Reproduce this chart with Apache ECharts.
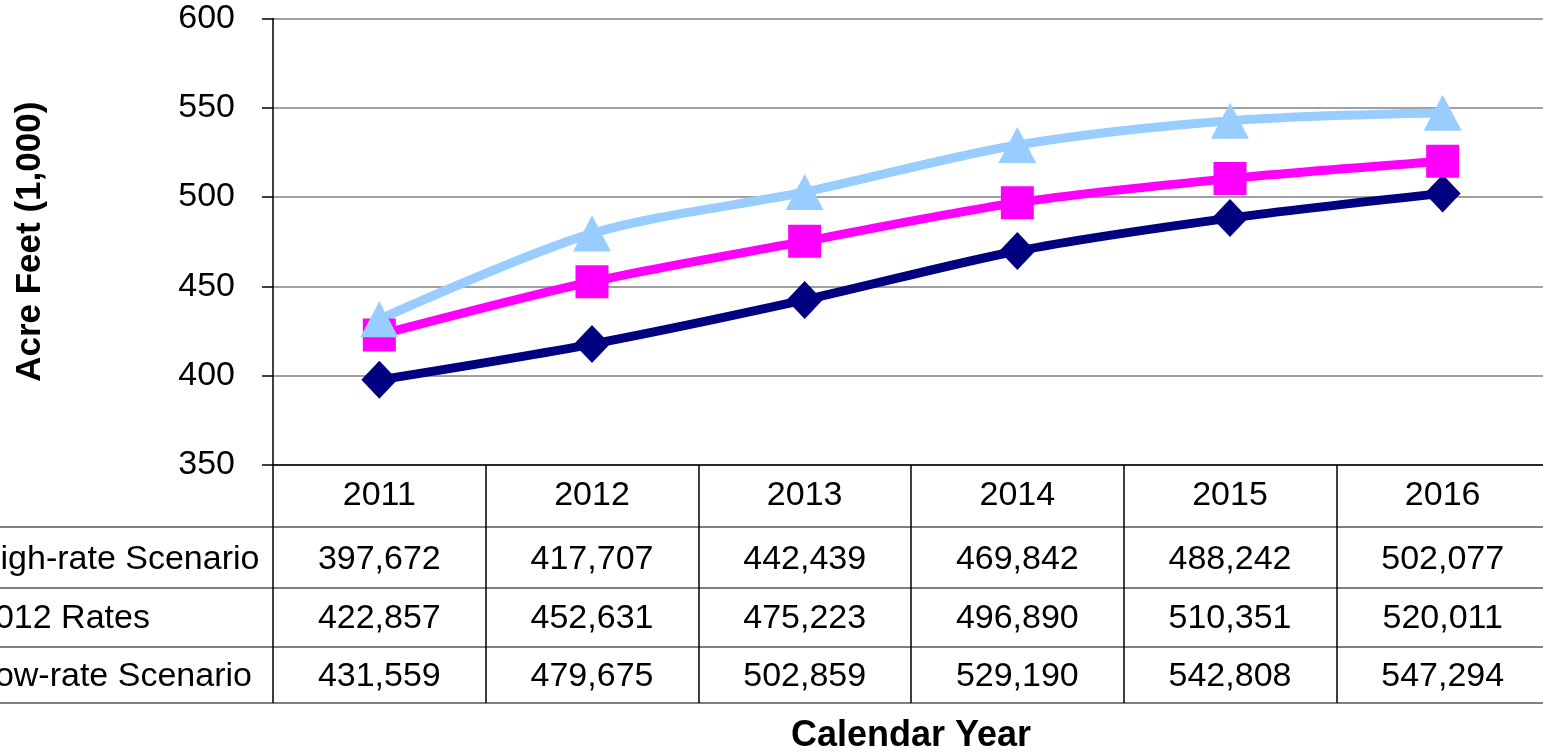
<!DOCTYPE html>
<html>
<head>
<meta charset="utf-8">
<script src="https://cdn.jsdelivr.net/npm/echarts@6/dist/echarts.min.js"></script>
<style>
  html, body { margin: 0; padding: 0; background: #fff; }
  #chart { width: 1543px; height: 754px; }
</style>
</head>
<body>
<div id="chart"></div>
<script>
// data (acre feet)
const years = ['2011', '2012', '2013', '2014', '2015', '2016']
const highRate = [397672, 417707, 442439, 469842, 488242, 502077]
const rates2012 = [422857, 452631, 475223, 496890, 510351, 520011]
const lowRate = [431559, 479675, 502859, 529190, 542808, 547294]
const seriesNames = ['High-rate Scenario', '2012 Rates', 'Low-rate Scenario']

const font = "'Liberation Sans', Arial, sans-serif"
const fmt = v => v.toLocaleString('en-US')
const toK = arr => arr.map(v => v / 1000)

const myChart = echarts.init(document.getElementById('chart'))

// row label y centres of the data table
const rowY = [560, 619, 677]
const tableLines = [527, 588, 647, 703]

myChart.setOption({
  backgroundColor: '#fff',
  animation: false,
  textStyle: { fontFamily: font },
  grid: {
    left: 273, top: 18.5, width: 1276, height: 446.5,
    containLabel: false, outerBoundsMode: 'none'
  },
  xAxis: {
    type: 'category',
    data: years,
    boundaryGap: true,
    name: 'Calendar Year',
    nameLocation: 'middle',
    nameGap: 253,
    nameTextStyle: { fontFamily: font, fontSize: 36, fontWeight: 'bold', color: '#000' },
    axisLine: { show: true, lineStyle: { color: '#000', width: 1.5 } },
    axisTick: { show: true, interval: 0, alignWithLabel: false, length: 238, lineStyle: { color: '#000', width: 1.5 } },
    axisLabel: {
      interval: 0,
      margin: 0,
      color: '#000',
      fontFamily: font,
      fontSize: 34,
      formatter: (v, i) => `{h|${v}}\n{a|${fmt(highRate[i])}}\n{b|${fmt(rates2012[i])}}\n{c|${fmt(lowRate[i])}}`,
      rich: {
        h: { fontFamily: font, fontSize: 34, color: '#000', lineHeight: 62 },
        a: { fontFamily: font, fontSize: 34, color: '#000', lineHeight: 66 },
        b: { fontFamily: font, fontSize: 34, color: '#000', lineHeight: 52 },
        c: { fontFamily: font, fontSize: 34, color: '#000', lineHeight: 64 }
      }
    },
    splitLine: { show: false }
  },
  yAxis: {
    type: 'value',
    min: 350,
    max: 600,
    interval: 50,
    name: 'Acre Feet (1,000)',
    nameLocation: 'middle',
    nameGap: 225,
    nameRotate: 90,
    nameTextStyle: { fontFamily: font, fontSize: 35, fontWeight: 'bold', color: '#000' },
    axisLine: { show: true, lineStyle: { color: '#000', width: 1.5 } },
    axisTick: { show: true, length: 11, lineStyle: { color: '#000', width: 1.5 } },
    axisLabel: { color: '#000', fontFamily: font, fontSize: 34, margin: 38 },
    splitLine: { show: true, lineStyle: { color: '#808080', width: 1.5 } }
  },
  graphic: [
    ...tableLines.map(y => ({
      type: 'line',
      shape: { x1: 0, y1: y, x2: 1543, y2: y },
      style: { stroke: '#555', lineWidth: 1.5 }
    })),
    ...seriesNames.map((n, i) => ({
      type: 'text',
      x: -24,
      y: rowY[i],
      style: { text: n, fill: '#000', font: `34px ${font}`, textAlign: 'left', textVerticalAlign: 'middle' }
    }))
  ],
  series: [
    {
      name: seriesNames[0],
      type: 'line',
      data: toK(highRate),
      smooth: 0.3,
      symbol: 'diamond',
      symbolSize: [36, 38],
      lineStyle: { color: '#000080', width: 9 },
      itemStyle: { color: '#000080' }
    },
    {
      name: seriesNames[1],
      type: 'line',
      data: toK(rates2012),
      smooth: 0.3,
      symbol: 'rect',
      symbolSize: 33,
      lineStyle: { color: '#FF00FF', width: 9 },
      itemStyle: { color: '#FF00FF' }
    },
    {
      name: seriesNames[2],
      type: 'line',
      data: toK(lowRate),
      smooth: 0.3,
      symbol: 'triangle',
      symbolSize: [38, 36],
      lineStyle: { color: '#99CCFF', width: 9 },
      itemStyle: { color: '#99CCFF' }
    }
  ]
})
</script>
</body>
</html>
